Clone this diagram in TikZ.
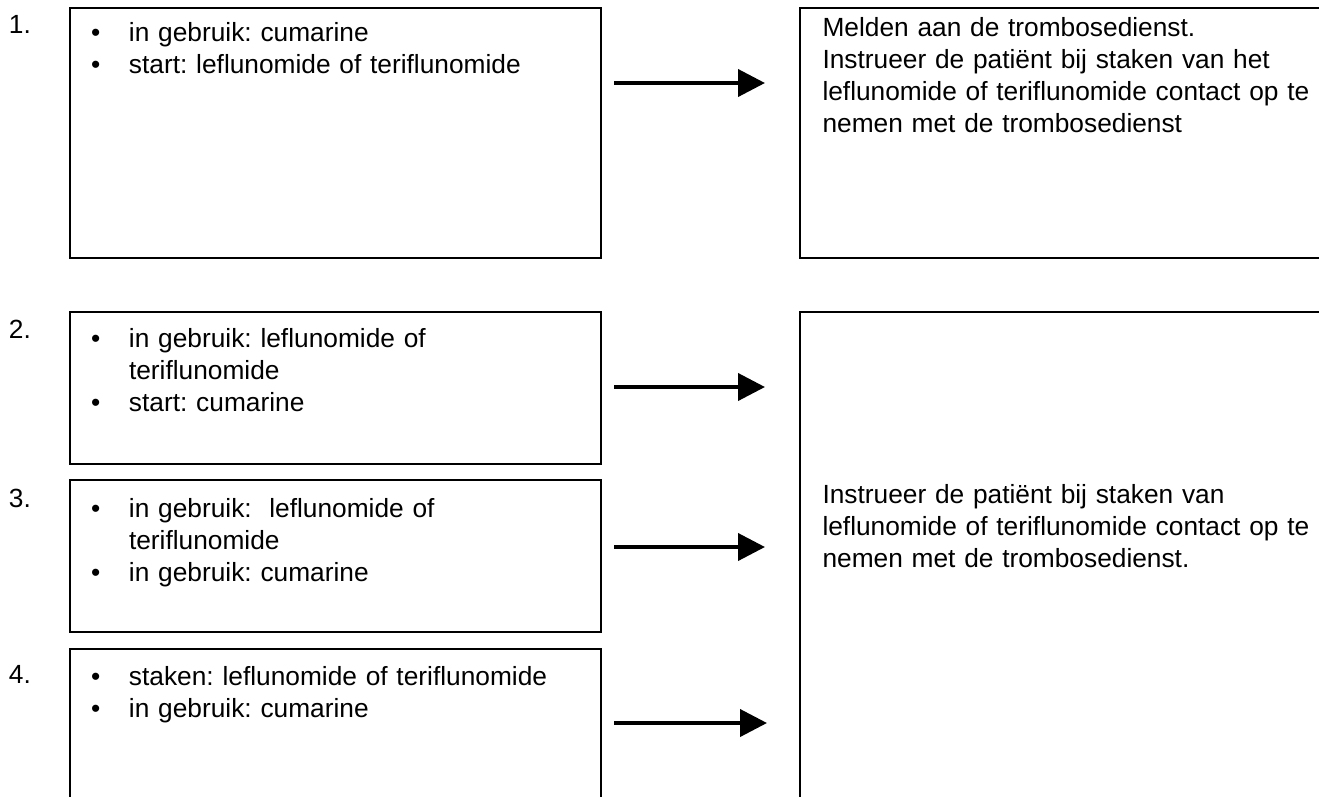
\documentclass[tikz,border=0pt]{standalone}
\usepackage{fontspec}
\setmainfont{Liberation Sans}
\usetikzlibrary{arrows.meta}

% opsommingsteken en vervolgregel
\newcommand{\opsom}[1]{\makebox[38pt][l]{\textbullet}#1}
\newcommand{\verder}{\hspace*{38pt}}

\tikzset{
  vak/.style={draw, line width=1.7pt, inner sep=0pt, anchor=north west},
  tekst/.style={anchor=base west, inner sep=0pt, align=left, text width=#1,
    font=\fontsize{26.3}{32}\selectfont\frenchspacing},
  nr/.style={anchor=base west, inner sep=0pt, font=\fontsize{26.3}{32}\selectfont},
}

\begin{document}
\begin{tikzpicture}[x=1pt, y=-1pt, >={Triangle[length=27pt, width=27pt]}, line width=4pt]
  \clip (0,0) rectangle (1319,796);
  % vakken links
  \node[vak, minimum width=531pt, minimum height=250pt] (b1) at (69,7) {};
  \node[vak, minimum width=531pt, minimum height=152pt] (b2) at (69,311) {};
  \node[vak, minimum width=531pt, minimum height=152pt] (b3) at (69,479) {};
  \node[vak, minimum width=531pt, minimum height=200pt] (b4) at (69,648) {};
  % vakken rechts
  \node[vak, minimum width=540pt, minimum height=250pt] (r1) at (799,7) {};
  \node[vak, minimum width=540pt, minimum height=520pt] (r2) at (799,311) {};

  \node[nr] (n1) at (7,33) {1.};
  \node[nr] (n2) at (7,338) {2.};
  \node[nr] (n3) at (7,507) {3.};
  \node[nr] (n4) at (7,683) {4.};

  \node[tekst=480pt] (t1) at ([shift={(20,34)}]b1.north west)
    {\opsom{in gebruik: cumarine}\\\opsom{start: leflunomide of teriflunomide}};
  \node[tekst=480pt] (t2) at ([shift={(20,36)}]b2.north west)
    {\opsom{in gebruik: leflunomide of}\\\verder teriflunomide\\\opsom{start: cumarine}};
  \node[tekst=480pt] (t3) at ([shift={(20,38)}]b3.north west)
    {\opsom{in gebruik:~ leflunomide of}\\\verder teriflunomide\\\opsom{in gebruik: cumarine}};
  \node[tekst=480pt] (t4) at ([shift={(20,37)}]b4.north west)
    {\opsom{staken: leflunomide of teriflunomide}\\\opsom{in gebruik: cumarine}};

  \node[tekst=500pt] (u1) at ([shift={(21.5,29)}]r1.north west)
    {Melden aan de trombosedienst.\\Instrueer de patiënt bij staken van het\\
     leflunomide of teriflunomide contact op te\\nemen met de trombosedienst};
  \node[tekst=500pt] (u2) at ([shift={(21.5,192)}]r2.north west)
    {Instrueer de patiënt bij staken van\\
     leflunomide of teriflunomide contact op te\\nemen met de trombosedienst.};

  % pijlen
  \coordinate (p1) at (614,83);  \coordinate (q1) at (765,83);
  \coordinate (p2) at (614,387); \coordinate (q2) at (765,387);
  \coordinate (p3) at (614,547); \coordinate (q3) at (765,547);
  \coordinate (p4) at (614,723); \coordinate (q4) at (767,723);
  \draw[->] (p1)--(q1);
  \draw[->] (p2)--(q2);
  \draw[->] (p3)--(q3);
  \draw[->] (p4)--(q4);
\end{tikzpicture}
\end{document}
